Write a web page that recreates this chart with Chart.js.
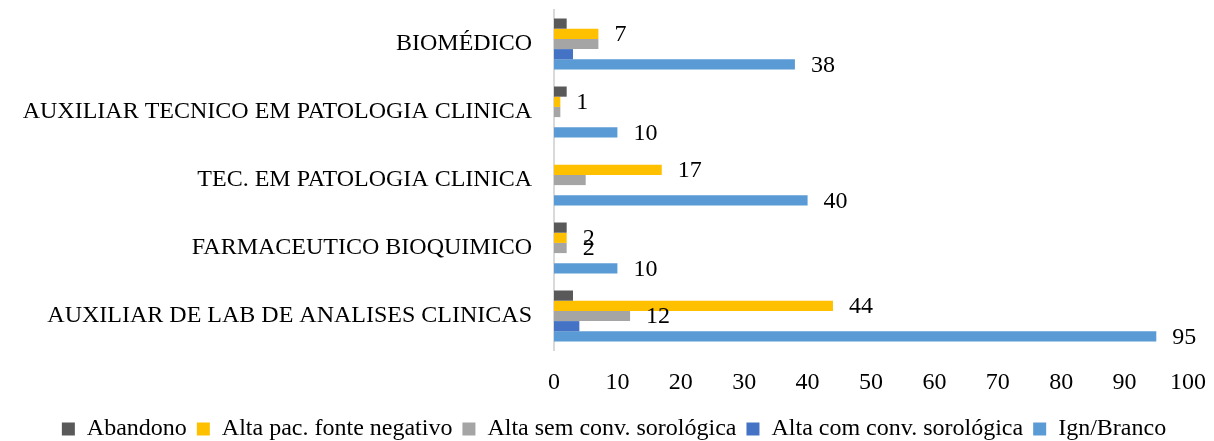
<!DOCTYPE html>
<html>
<head>
<meta charset="utf-8">
<script src="https://cdn.jsdelivr.net/npm/chart.js@4"></script>
<style>
  html, body { margin: 0; padding: 0; background: #fff; }
  #wrap { width: 1214px; height: 441px; position: relative; }
</style>
</head>
<body>
<div id="wrap"><canvas id="profChart"></canvas></div>
<script>
// categories, top to bottom
const categorias = [
  "BIOMÉDICO",
  "AUXILIAR TECNICO EM PATOLOGIA CLINICA",
  "TEC. EM PATOLOGIA CLINICA",
  "FARMACEUTICO BIOQUIMICO",
  "AUXILIAR DE LAB DE ANALISES CLINICAS",
];

// series values (same order as categorias)
const abandono = [2, 2, 0, 2, 3];
const altaFonteNeg = [7, 1, 17, 2, 44];
const altaSemConv = [7, 1, 5, 2, 12];
const altaComConv = [3, 0, 0, 0, 4];
const ignBranco = [38, 10, 40, 10, 95];

// which values carry a number label in the picture
const rotuloAbandono = [false, false, false, false, false];
const rotuloFonteNeg = [true, true, true, true, true];
const rotuloSemConv = [false, false, false, true, true];
const rotuloComConv = [false, false, false, false, false];
const rotuloIgn = [true, true, true, true, true];

const xTicks = [0, 10, 20, 30, 40, 50, 60, 70, 80, 90, 100];

const serif = "'Liberation Serif', 'Times New Roman', serif";

const rotulos = [rotuloAbandono, rotuloFonteNeg, rotuloSemConv, rotuloComConv, rotuloIgn];

// draws the value next to the end of each labelled bar
const valueLabels = {
  id: "valueLabels",
  beforeInit(chart) {
    // legend sits lower, closer to the bottom edge
    const fit = chart.legend.fit;
    chart.legend.fit = function () {
      fit.call(this);
      this.height -= 10;
    };
  },
  afterLayout(chart) {
    // legend is centred a bit right of the plot
    chart.legend.left += 20;
    chart.legend.right += 20;
  },
  afterDatasetsDraw(chart) {
    const ctx = chart.ctx;
    ctx.save();
    ctx.font = "24px " + serif;
    ctx.fillStyle = "#000";
    ctx.textAlign = "left";
    ctx.textBaseline = "middle";
    chart.data.datasets.forEach((ds, d) => {
      const meta = chart.getDatasetMeta(d);
      meta.data.forEach((bar, i) => {
        if (!rotulos[d][i]) return;
        ctx.fillText(String(ds.data[i]), bar.x + 16, bar.y + 1);
      });
    });
    ctx.restore();
  },
};

const data = {
  labels: categorias,
  datasets: [
    { label: "Abandono", data: abandono, backgroundColor: "#595959" },
    { label: "Alta pac. fonte negativo", data: altaFonteNeg, backgroundColor: "#FFC000" },
    { label: "Alta sem conv. sorológica", data: altaSemConv, backgroundColor: "#A5A5A5" },
    { label: "Alta com conv. sorológica", data: altaComConv, backgroundColor: "#4472C4" },
    { label: "Ign/Branco", data: ignBranco, backgroundColor: "#5B9BD5" },
  ],
};

var ctx = document.getElementById("profChart");
var myChart = new Chart(ctx, {
  type: "bar",
  data: data,
  plugins: [valueLabels],
  options: {
    indexAxis: "y",
    responsive: true,
    maintainAspectRatio: false,
    animation: false,
    categoryPercentage: 0.75,
    barPercentage: 1.0,
    layout: { padding: { top: 10, right: 26, left: 0, bottom: 0 } },
    scales: {
      x: {
        min: 0,
        max: 100,
        afterBuildTicks: (scale) => {
          scale.ticks = xTicks.map((v) => ({ value: v }));
        },
        afterFit: (scale) => {
          scale.height = 57;
          scale.paddingLeft = 0;
          scale.paddingRight = 0;
        },
        grid: { display: false, drawTicks: false },
        border: { display: false },
        ticks: { padding: 18, color: "#000", font: { family: serif, size: 24 } },
      },
      y: {
        afterFit: (scale) => {
          scale.width = 554;
          scale.paddingTop = 0;
          scale.paddingBottom = 0;
        },
        grid: { display: false, drawTicks: false },
        border: { display: true, color: "#D9D9D9", width: 2 },
        ticks: { padding: 22, color: "#000", font: { family: serif, size: 24 } },
      },
    },
    plugins: {
      legend: {
        position: "bottom",
        labels: {
          boxWidth: 13,
          boxHeight: 13,
          padding: 10,
          color: "#000",
          font: { family: serif, size: 24 },
        },
      },
      tooltip: { enabled: false },
    },
  },
});
</script>
</body>
</html>
